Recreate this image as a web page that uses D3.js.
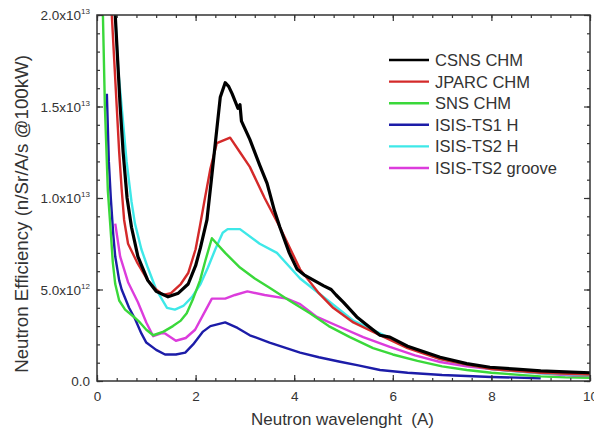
<!DOCTYPE html>
<html>
<head>
<meta charset="utf-8">
<script src="https://cdn.jsdelivr.net/npm/d3@7"></script>
<style>
  body { margin: 0; background: #fff; }
  svg text { font-family: "Liberation Sans", Arial, sans-serif; fill: #333; white-space: pre; }
</style>
</head>
<body>
<div id="chart"></div>
<script>
// Series names and colours
const seriesNames = ["CSNS CHM", "JPARC CHM", "SNS CHM", "ISIS-TS1 H", "ISIS-TS2 H", "ISIS-TS2 groove"];
const seriesColors = ["#000000", "#d42a2a", "#3ad83a", "#1c1ca8", "#3ee8e8", "#dc3cdc"];

// values are [wavelength (A), efficiency in 1e12 n/Sr/A/s]
const csns = [[0.37,20],[0.42,17.5],[0.47,15],[0.53,12.5],[0.61,10],[0.7,8.4],[0.83,6.8],[1.03,5.5],[1.2,4.9],[1.44,4.6],
  [1.65,4.8],[1.85,5.3],[2.0,6.3],[2.1,7.3],[2.23,8.8],[2.32,11],[2.4,13],[2.5,15.5],[2.6,16.3],[2.67,16.1],[2.74,15.7],
  [2.86,14.9],[2.9,15.1],[2.93,14.2],[3.1,13.2],[3.3,11.8],[3.45,10.8],[3.6,9.3],[3.71,8.4],[3.9,7.0],[4.06,6.1],[4.2,5.8],
  [4.4,5.5],[4.6,5.2],[4.75,5.0],[4.85,4.7],[5.0,4.3],[5.27,3.5],[5.5,3.0],[5.74,2.5],[5.94,2.4],[6.3,1.9],[6.96,1.3],
  [7.5,0.95],[7.97,0.75],[8.5,0.65],[9.0,0.55],[9.5,0.5],[10,0.45]];
const jparc = [[0.3,20],[0.35,17.5],[0.4,15],[0.45,12.5],[0.5,10.5],[0.55,8.8],[0.63,7.5],[0.81,6.5],[1.03,5.5],[1.2,5.0],
  [1.34,4.7],[1.5,4.8],[1.7,5.3],[1.85,5.9],[2.0,7.2],[2.09,8.5],[2.19,10.0],[2.3,11.6],[2.43,13.0],[2.7,13.3],[2.9,12.5],
  [3.1,11.7],[3.4,10.0],[3.71,8.4],[4.12,6.1],[4.5,4.8],[4.79,4.0],[5.2,3.2],[5.74,2.5],[6.3,1.8],[6.96,1.2],[7.5,0.9],
  [8.0,0.65],[9.0,0.45],[10,0.35]];
const sns = [[0.12,20],[0.16,15],[0.22,10.4],[0.27,8.5],[0.32,6.5],[0.37,5.3],[0.45,4.4],[0.57,3.9],[0.75,3.5],[0.87,3.2],
  [1.0,2.8],[1.14,2.5],[1.35,2.7],[1.54,3.0],[1.7,3.3],[1.82,3.7],[1.95,4.5],[2.09,5.5],[2.2,6.6],[2.33,7.8],[2.6,7.0],
  [2.9,6.2],[3.2,5.6],[3.5,5.1],[3.9,4.4],[4.32,3.7],[4.7,3.0],[5.13,2.4],[5.6,1.8],[6.0,1.45],[6.5,1.1],[7.0,0.8],
  [7.5,0.6],[8.0,0.45],[8.5,0.35],[9.0,0.25],[9.5,0.2],[10,0.18]];
const ts1 = [[0.2,15.7],[0.24,12],[0.28,10],[0.33,8],[0.37,6.8],[0.45,5.5],[0.5,5.0],[0.65,4.0],[0.77,3.4],[0.9,2.6],
  [1.0,2.1],[1.2,1.7],[1.38,1.45],[1.6,1.45],[1.79,1.55],[1.95,2.0],[2.15,2.7],[2.3,3.0],[2.6,3.2],[2.85,2.9],[3.1,2.5],
  [3.5,2.1],[4.12,1.55],[4.5,1.3],[4.93,1.05],[5.3,0.85],[5.74,0.6],[6.3,0.45],[7.0,0.33],[8.0,0.22],[9.0,0.15]];
const ts2 = [[0.37,20],[0.43,17],[0.5,15],[0.6,12],[0.7,9.8],[0.77,8.6],[0.9,7.2],[1.03,6.2],[1.2,5.0],[1.42,4.0],
  [1.58,3.9],[1.75,4.1],[1.93,4.6],[2.1,5.3],[2.25,6.2],[2.4,7.2],[2.55,8.1],[2.65,8.3],[2.9,8.3],[3.3,7.5],[3.65,7.0],
  [4.12,5.6],[4.73,4.3],[5.2,3.3],[5.74,2.6],[6.2,2.0],[6.96,1.2],[7.5,0.9],[8.0,0.65],[9,0.42],[10,0.32]];
const groove = [[0.37,8.6],[0.47,6.8],[0.63,5.4],[0.83,4.3],[1.0,3.2],[1.14,2.45],[1.3,2.6],[1.38,2.6],[1.6,2.2],[1.8,2.35],
  [1.99,2.8],[2.15,3.6],[2.33,4.5],[2.6,4.5],[2.8,4.7],[3.05,4.9],[3.4,4.7],[3.85,4.5],[4.12,4.2],[4.46,3.5],[4.93,2.95],
  [5.4,2.4],[5.94,1.86],[6.45,1.4],[6.96,1.04],[7.5,0.8],[8.0,0.65],[9.0,0.42],[10,0.22]];

const xTicks = [0, 2, 4, 6, 8, 10];
const yTicks = [0, 5, 10, 15, 20];
const yTickLabels = ["0.0", "5.0x10", "1.0x10", "1.5x10", "2.0x10"];
const yTickExp = ["", "12", "13", "13", "13"];

const allSeries = [csns, jparc, sns, ts1, ts2, groove];

const width = 594, height = 435;

const svg = d3.select("#chart").append("svg")
  .attr("width", width).attr("height", height);

const x = d3.scaleLinear().domain([0, 10]).range([97, 590]);
const y = d3.scaleLinear().domain([0, 20]).range([381, 15]);

svg.append("clipPath").attr("id", "plotclip")
  .append("rect")
  .attr("x", x(0)).attr("y", y(20))
  .attr("width", x(10) - x(0)).attr("height", y(0) - y(20));

const line = d3.line().x(d => x(d[0])).y(d => y(d[1]));

const plot = svg.append("g").attr("clip-path", "url(#plotclip)");
// draw back to front so black sits on top
[5, 4, 3, 2, 1, 0].forEach(i => {
  plot.append("path")
    .datum(allSeries[i])
    .attr("fill", "none")
    .attr("stroke", seriesColors[i])
    .attr("stroke-width", i === 0 ? 3.2 : 2.4)
    .attr("stroke-linejoin", "round")
    .attr("d", line);
});

// axes, ticks inside on all sides
const axisColor = "#333";
const xMinor = d3.range(0, 10.01, 0.4);
const yMinor = d3.range(0, 20.01, 1);

const axes = svg.append("g");
axes.append("g").attr("transform", `translate(0,${y(0)})`)
  .call(d3.axisBottom(x).tickValues(xMinor).tickSize(-3).tickFormat(""));
axes.append("g").attr("transform", `translate(0,${y(0)})`)
  .call(d3.axisBottom(x).tickValues(xTicks).tickSize(-6).tickPadding(10).tickFormat(d3.format("d")));
axes.append("g").attr("transform", `translate(0,${y(20)})`)
  .call(d3.axisTop(x).tickValues(xMinor).tickSize(-3).tickFormat(""));
axes.append("g").attr("transform", `translate(0,${y(20)})`)
  .call(d3.axisTop(x).tickValues(xTicks).tickSize(-6).tickFormat(""));
axes.append("g").attr("transform", `translate(${x(0)},0)`)
  .call(d3.axisLeft(y).tickValues(yMinor).tickSize(-3).tickFormat(""));
axes.append("g").attr("transform", `translate(${x(0)},0)`)
  .call(d3.axisLeft(y).tickValues(yTicks).tickSize(-6).tickFormat(""));
axes.append("g").attr("transform", `translate(${x(10)},0)`)
  .call(d3.axisRight(y).tickValues(yMinor).tickSize(-3).tickFormat(""));
axes.append("g").attr("transform", `translate(${x(10)},0)`)
  .call(d3.axisRight(y).tickValues(yTicks).tickSize(-6).tickFormat(""));

axes.selectAll(".domain").remove();
axes.selectAll(".tick line").attr("stroke", axisColor).attr("stroke-width", 1.2);
axes.selectAll(".tick text").attr("font-size", 13.5).attr("fill", "#333")
  .attr("font-family", "Liberation Sans, Arial, sans-serif");

svg.append("rect")
  .attr("x", x(0)).attr("y", y(20))
  .attr("width", x(10) - x(0)).attr("height", y(0) - y(20))
  .attr("fill", "none").attr("stroke", axisColor).attr("stroke-width", 1.5);

// y tick labels with superscript exponent
yTicks.forEach((v, i) => {
  const t = svg.append("text")
    .attr("x", 90).attr("y", y(v) + 5)
    .attr("text-anchor", "end")
    .attr("font-size", 13.5);
  t.append("tspan").text(yTickLabels[i]);
  if (yTickExp[i]) {
    t.append("tspan").attr("font-size", 8).attr("dy", -6).text(yTickExp[i]);
  }
});

// axis titles, sized to the span they take in the original
function fitText(sel, targetLen) {
  const len = sel.node().getComputedTextLength();
  sel.attr("font-size", 16 * targetLen / len);
}

const xTitle = svg.append("text")
  .attr("x", 342.5).attr("y", 425)
  .attr("text-anchor", "middle")
  .attr("font-size", 16)
  .text("Neutron wavelenght  (A)");
fitText(xTitle, 183);

const yTitle = svg.append("text")
  .attr("transform", `translate(28,214) rotate(-90)`)
  .attr("text-anchor", "middle")
  .attr("font-size", 16)
  .text("Neutron Efficiency (n/Sr/A/s @100kW)");
fitText(yTitle, 318);

// legend
const legend = svg.append("g");
seriesNames.forEach((name, i) => {
  const ly = 60 + i * 21.6;
  legend.append("line")
    .attr("x1", 389).attr("x2", 429).attr("y1", ly).attr("y2", ly)
    .attr("stroke", seriesColors[i]).attr("stroke-width", 2.4);
  legend.append("text")
    .attr("x", 435).attr("y", ly + 6)
    .attr("font-size", 16.5)
    .attr("fill", "#111")
    .text(name);
});
</script>
</body>
</html>
